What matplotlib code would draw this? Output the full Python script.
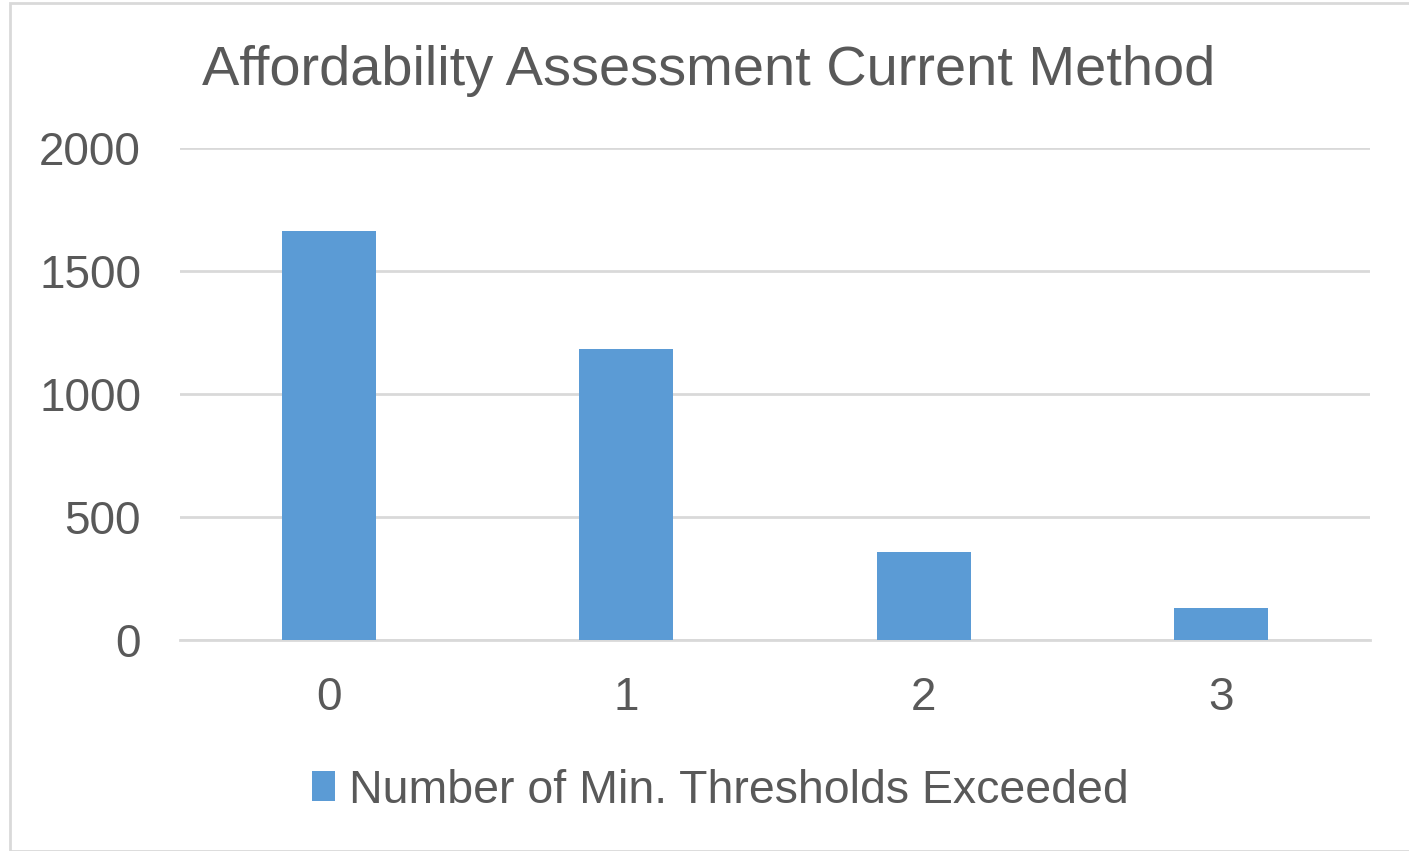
import matplotlib.pyplot as plt
from matplotlib.patches import Rectangle

categories = ['0', '1', '2', '3']
counts = [1663, 1183, 358, 130]
series_name = 'Number of Min. Thresholds Exceeded'
title = 'Affordability Assessment Current Method'

plt.rcParams['font.family'] = ['Liberation Sans', 'DejaVu Sans']
text_color = '#595959'

fig = plt.figure(figsize=(14.09, 8.51), dpi=100)
fig.patches.append(Rectangle((0.007, 0.0), 0.995, 0.996, transform=fig.transFigure,
                             fill=False, edgecolor='#d9d9d9', linewidth=2))
ax = fig.add_axes([0.1277, 0.2479, 0.8446, 0.5781])

x = range(len(categories))
ax.bar(x, counts, width=0.315, color='#5b9bd5', label=series_name, zorder=3)

ax.set_xlim(-0.5, 3.5)
ax.set_ylim(0, 2000)
ax.set_yticks([0, 500, 1000, 1500, 2000])
ax.set_xticks(list(x))
ax.set_xticklabels(categories)
ax.yaxis.grid(True, color='#d9d9d9', linewidth=2, zorder=0)
for s in ['top', 'right', 'left']:
    ax.spines[s].set_visible(False)
ax.spines['bottom'].set_color('#d9d9d9')
ax.spines['bottom'].set_linewidth(2)
ax.tick_params(axis='both', length=0, labelsize=33, colors=text_color)
ax.tick_params(axis='y', pad=28)
ax.tick_params(axis='x', pad=26)

fig.text(0.503, 0.916, title, ha='center', va='center', fontsize=40.3, color=text_color)

fig.legend(loc='center', bbox_to_anchor=(0.511, 0.071), frameon=False, fontsize=33.5,
           labelcolor=text_color, handlelength=0.5, handleheight=0.6, handletextpad=0.3)

fig.savefig('out.png', dpi=100)
